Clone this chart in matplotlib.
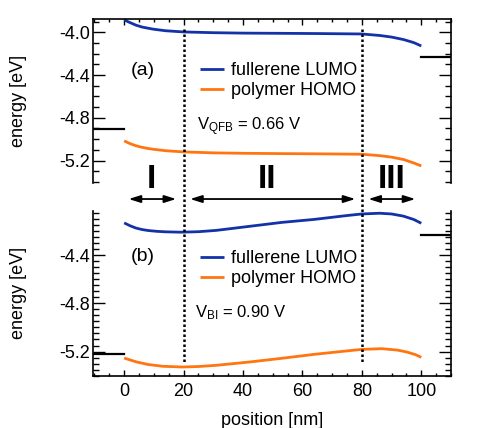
import matplotlib
matplotlib.use('Agg')
import matplotlib.pyplot as plt
import matplotlib.transforms as mtransforms
from matplotlib.lines import Line2D
from matplotlib.ticker import MultipleLocator

plt.rcParams['font.family'] = ['Liberation Sans', 'DejaVu Sans']
plt.rcParams['mathtext.default'] = 'regular'
plt.rcParams['font.size'] = 13

# data
# (a) quasi-Fermi-level case
x_lumo_a = [0, 2, 4, 6, 8, 10, 14, 20, 30, 40, 53, 65, 80, 86, 90, 94, 97.5, 100]
e_lumo_a = [-3.885, -3.910, -3.934, -3.951, -3.962, -3.972, -3.986, -3.997, -4.004,
            -4.008, -4.010, -4.012, -4.016, -4.030, -4.045, -4.068, -4.097, -4.128]
x_homo_a = [0, 2, 4, 6, 8, 10, 14, 20, 30, 40, 53, 65, 80, 86, 90, 94, 97.5, 100]
e_homo_a = [-5.016, -5.042, -5.062, -5.076, -5.087, -5.095, -5.108, -5.119, -5.128,
            -5.132, -5.135, -5.137, -5.141, -5.154, -5.168, -5.190, -5.223, -5.250]
# (b) built-in case
x_lumo_b = [0, 2, 4, 6, 8, 11, 14, 19, 25, 31, 42, 53, 64, 75, 80, 86, 90, 94, 97.5, 100]
e_lumo_b = [-4.134, -4.158, -4.177, -4.189, -4.197, -4.204, -4.208, -4.211, -4.207,
            -4.196, -4.163, -4.130, -4.105, -4.073, -4.060, -4.054, -4.060, -4.078,
            -4.106, -4.137]
x_homo_b = [0, 4, 8, 13, 19.5, 25, 31, 42, 53, 64, 75.6, 80, 86.7, 92, 95, 98, 100]
e_homo_b = [-5.254, -5.285, -5.307, -5.322, -5.328, -5.324, -5.314, -5.287, -5.256,
            -5.223, -5.193, -5.182, -5.176, -5.188, -5.203, -5.225, -5.248]

# electrode levels (left contact, right contact)
electrode_a = [-4.907, -4.234]
electrode_b = [-5.220, -4.233]

region_bounds = [20, 80]
region_labels = ['I', 'II', 'III']
region_label_x = [9, 48, 90]
region_arrows = [(1.5, 17.5), (22.2, 77.8), (82.2, 98)]

blue = '#1432a8'
orange = '#ff7512'

fig = plt.figure(figsize=(4.91, 4.28), dpi=100)
ax1 = fig.add_axes([0.1894, 0.5724, 0.7291, 0.3832])
ax2 = fig.add_axes([0.1894, 0.1222, 0.7291, 0.3855])

xlim = (-10.5, 110)

def draw_panel(ax, xl, el, xh, eh, elec):
    ax.plot(xl, el, color=blue, lw=2, label='fullerene LUMO', solid_capstyle='butt')
    ax.plot(xh, eh, color=orange, lw=2, label='polymer HOMO', solid_capstyle='butt')
    ax.plot([xlim[0], 0], [elec[0], elec[0]], color='k', lw=1.6)
    ax.plot([100, xlim[1]], [elec[1], elec[1]], color='k', lw=1.6)
    ax.set_xlim(*xlim)
    ax.set_ylabel('energy [eV]', fontsize=13)
    ax.yaxis.set_label_coords(-0.183, 0.5)
    ax.xaxis.set_major_locator(MultipleLocator(20))
    ax.xaxis.set_minor_locator(MultipleLocator(5))
    ax.tick_params(axis='x', which='major', direction='in', length=4.5, width=1, pad=5)
    ax.tick_params(axis='x', which='minor', direction='in', length=2.5, width=1)
    ax.tick_params(axis='y', which='major', direction='in', length=8.5, width=1,
                   left=True, right=True, pad=2)
    ax.tick_params(axis='y', which='minor', direction='in', length=4.5, width=1,
                   left=True, right=True)
    ax.tick_params(labelsize=13)
    for s in ax.spines.values():
        s.set_linewidth(1.2)
    leg = ax.legend(frameon=False, handlelength=1.3, handletextpad=0.4,
                    labelspacing=0.18, borderpad=0, borderaxespad=0, fontsize=13)
    return leg

leg1 = draw_panel(ax1, x_lumo_a, e_lumo_a, x_homo_a, e_homo_a, electrode_a)
leg2 = draw_panel(ax2, x_lumo_b, e_lumo_b, x_homo_b, e_homo_b, electrode_b)
leg1.set_bbox_to_anchor((0.299, 0.738), transform=ax1.transAxes)
leg1._loc = 2
leg2.set_bbox_to_anchor((0.299, 0.762), transform=ax2.transAxes)
leg2._loc = 2

# top panel: no bottom spine, ticks on top
ax1.set_ylim(-5.41, -3.876)
ax1.set_yticks([-4.0, -4.4, -4.8, -5.2])
ax1.set_yticklabels(['-4.0', '-4.4', '-4.8', '-5.2'])
ax1.yaxis.set_minor_locator(MultipleLocator(0.1))
ax1.spines['bottom'].set_visible(False)
ax1.tick_params(axis='x', which='both', bottom=False, top=True, labelbottom=False)

# bottom panel: no top spine
ax2.set_ylim(-5.40, -4.033)
ax2.set_yticks([-4.4, -4.8, -5.2])
ax2.set_yticklabels(['-4.4', '-4.8', '-5.2'])
ax2.yaxis.set_minor_locator(MultipleLocator(0.05))
ax2.spines['top'].set_visible(False)
ax2.tick_params(axis='x', which='both', bottom=True, top=False)
ax2.set_xlabel('position [nm]', fontsize=13)
ax2.xaxis.set_label_coords(0.5, -0.22)

ax1.text(0.14, 0.685, '(a)', transform=ax1.transAxes, fontsize=14, ha='center', va='center')
ax2.text(0.14, 0.721, '(b)', transform=ax2.transAxes, fontsize=14, ha='center', va='center')
ax1.text(0.29, 0.341, r'V$_{QFB}$ = 0.66 V', transform=ax1.transAxes, fontsize=12,
         ha='left', va='center')
ax2.text(0.285, 0.38, r'V$_{BI}$ = 0.90 V', transform=ax2.transAxes, fontsize=12,
         ha='left', va='center')

# dotted region boundaries and region arrows, spanning both panels
trans = mtransforms.blended_transform_factory(ax1.transData, fig.transFigure)
for xb in region_bounds:
    fig.add_artist(Line2D([xb, xb], [0.932, 0.154], transform=trans, color='k',
                          lw=1.8, linestyle=(0, (1, 1))))
for (xa, xb), lab, xl in zip(region_arrows, region_labels, region_label_x):
    ax1.annotate('', xy=(xa, 0.535), xytext=(xb, 0.535), xycoords=trans,
                 textcoords=trans, annotation_clip=False,
                 arrowprops=dict(arrowstyle='<|-|>,head_length=0.7,head_width=0.22',
                                 color='k', lw=1.3, mutation_scale=10,
                                 shrinkA=0, shrinkB=0))
    ax1.text(xl, 0.58, lab, transform=trans, ha='center', va='center',
             fontsize=24, fontweight='bold',
             family=['Liberation Sans Narrow', 'Liberation Sans'])

fig.savefig('out.png', dpi=100)
